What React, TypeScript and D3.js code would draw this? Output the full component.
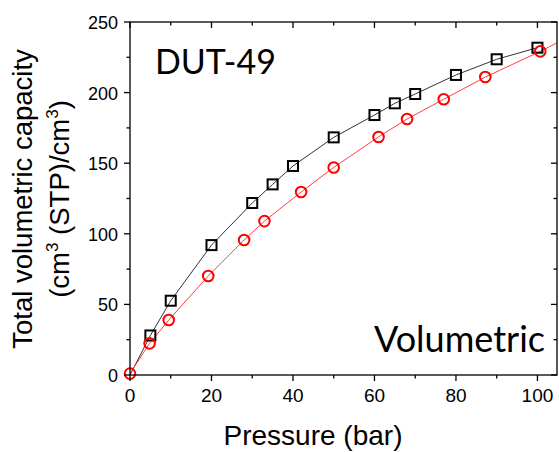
import React from "react";
import * as d3 from "d3";

const squareX = [0, 5, 10, 20, 30, 35, 40, 50, 60, 65, 70, 80, 90, 100];
const squareY = [0, 28, 52.6, 92, 121.8, 135, 148, 168.3, 184.1, 192.4, 199, 212.5, 223.6, 231.8];
const circleX = [0, 4.8, 9.5, 19.2, 28, 33, 42, 50, 61, 68, 77, 87.2, 100.7];
const circleY = [1, 22.4, 38.9, 70.1, 95.6, 109, 129.6, 147, 168.6, 181.3, 195.3, 211, 229.2];
const redTailX = [105];
const redTailY = [235.5];
const xTicks = [0, 20, 40, 60, 80, 100];
const yTicks = [0, 50, 100, 150, 200, 250];

const W = 559, H = 452;
const L = 130, R = 557, T = 22, B = 375;
const FONT = "'Liberation Sans', Arial, sans-serif";

export default function App() {
  const x = d3.scaleLinear().domain([0, 104.8]).range([L, R]);
  const y = d3.scaleLinear().domain([0, 250]).range([B, T]);
  const line = d3.line<[number, number]>().x(d => x(d[0])).y(d => y(d[1]));
  const sq = squareX.map((v, i) => [v, squareY[i]] as [number, number]);
  const ci = circleX.map((v, i) => [v, circleY[i]] as [number, number]);
  const redLine = ci.concat(redTailX.map((v, i) => [v, redTailY[i]] as [number, number]));
  const xMinor = d3.range(0, 105, 10);
  const yMinor = d3.range(0, 251, 25);
  const tk = 6;
  return (
    <svg width={W} height={H} style={{ position: "absolute", left: 0, top: 0 }}>
      <rect width={W} height={H} fill="white" />
      <defs>
        <clipPath id="clp"><rect x={L} y={T} width={R - L} height={B - T} /></clipPath>
      </defs>
      <g clipPath="url(#clp)">
        <path d={line(sq) || ""} fill="none" stroke="#333" strokeWidth={1} />
        <path d={line(redLine) || ""} fill="none" stroke="#ff4040" strokeWidth={1} />
      </g>
      {sq.slice(1).map((d, i) => (
        <rect key={"s" + i} x={x(d[0]) - 5} y={y(d[1]) - 5} width={10} height={10} fill="none" stroke="black" strokeWidth={2} />
      ))}
      {ci.map((d, i) => (
        <circle key={"c" + i} cx={x(d[0])} cy={y(d[1])} r={5.3} fill="none" stroke="red" strokeWidth={2} />
      ))}
      <rect x={L} y={T} width={R - L} height={B - T} fill="none" stroke="black" strokeWidth={1.3} />
      {xMinor.map(v => (
        <g key={"xt" + v}>
          <line x1={x(v)} x2={x(v)} y1={B} y2={B + (v % 20 === 0 ? tk : 3.5)} stroke="black" strokeWidth={1.3} />
          <line x1={x(v)} x2={x(v)} y1={T} y2={T + (v % 20 === 0 ? tk : 3.5)} stroke="black" strokeWidth={1.3} />
        </g>
      ))}
      {yMinor.map(v => (
        <g key={"yt" + v}>
          <line x1={L} x2={L - (v % 50 === 0 ? tk : 3.5)} y1={y(v)} y2={y(v)} stroke="black" strokeWidth={1.3} />
          <line x1={R} x2={R - (v % 50 === 0 ? tk : 3.5)} y1={y(v)} y2={y(v)} stroke="black" strokeWidth={1.3} />
        </g>
      ))}
      {xTicks.map(v => (
        <text key={"xl" + v} x={x(v)} y={B + 27} textAnchor="middle" fontFamily={FONT} fontSize={19}>{v}</text>
      ))}
      {yTicks.map(v => (
        <text key={"yl" + v} x={L - 12} y={y(v) + 7} textAnchor="end" fontFamily={FONT} fontSize={18}>{v}</text>
      ))}
      <text x={313} y={445} textAnchor="middle" fontFamily={FONT} fontSize={28}>Pressure (bar)</text>
      <g transform="translate(32,199) rotate(-90)">
        <text x={0} y={0} textAnchor="middle" fontFamily={FONT} fontSize={27.5}>Total volumetric capacity</text>
        <text x={0} y={37} textAnchor="middle" fontFamily={FONT} fontSize={27.5}>
          (cm<tspan fontSize={17} dy={-11}>3</tspan><tspan dy={11}> (STP)/cm</tspan><tspan fontSize={17} dy={-11}>3</tspan><tspan dy={11}>)</tspan>
        </text>
      </g>
      <text x={155} y={74} fontFamily="Lato, sans-serif" fontSize={34}>DUT-49</text>
      <text x={545} y={352} textAnchor="end" fontFamily="Lato, sans-serif" fontSize={36}>Volumetric</text>
    </svg>
  );
}
